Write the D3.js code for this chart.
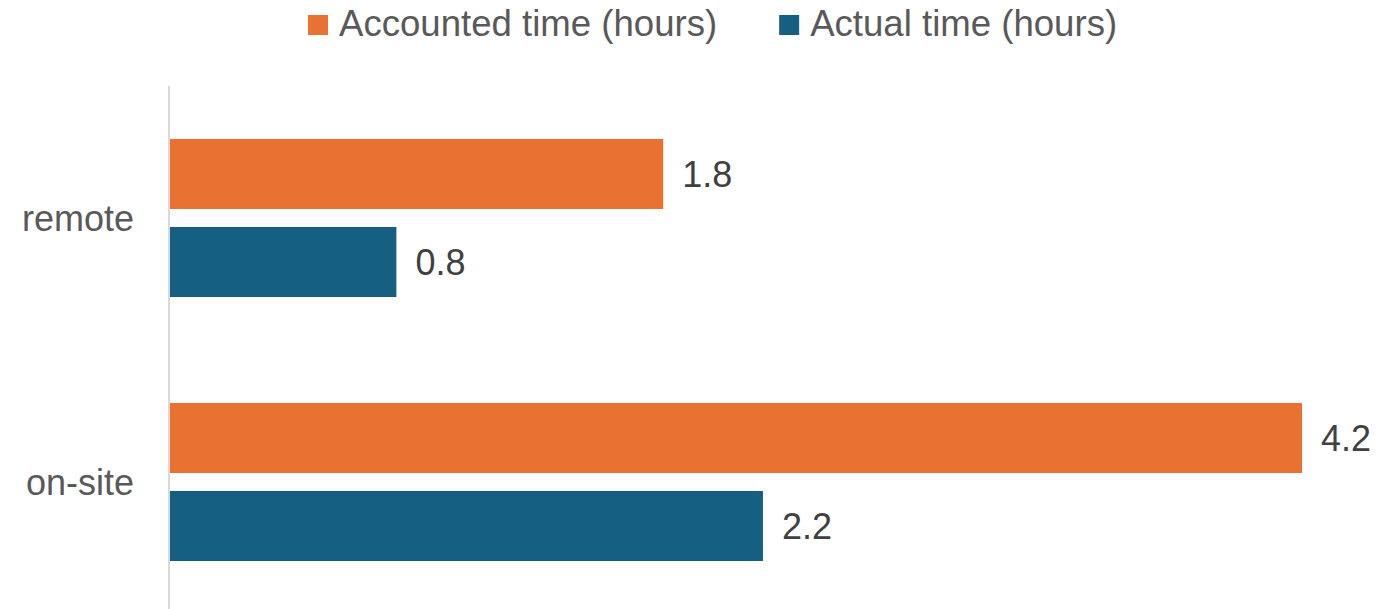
<!DOCTYPE html>
<html>
<head>
<meta charset="utf-8">
<script src="https://cdn.jsdelivr.net/npm/d3@7"></script>
<style>
  body { margin: 0; background: #fff; }
  text { font-family: "Liberation Sans", Arial, sans-serif; }
</style>
</head>
<body>
<div id="chart"></div>
<script>
// data
var categories = ["remote", "on-site"];
var series = ["Accounted time (hours)", "Actual time (hours)"];
var accounted = [1.83, 4.2];
var actual = [0.84, 2.2];
var colors = ["#E97132", "#156082"];

var width = 1386, height = 609;

var rows = categories.map(function(c, i) {
    return {cat: c, values: [accounted[i], actual[i]]};
});

var svg = d3.select("#chart").append("svg")
    .attr("width", width)
    .attr("height", height);

var x = d3.scaleLinear().domain([0, 4.2]).range([170, 1302]);

var y0 = d3.scaleBand()
    .domain(categories)
    .range([86, 614]);

var y1 = d3.scaleBand()
    .domain(d3.range(series.length))
    .range([0, y0.bandwidth()])
    .paddingInner(18 / 88)
    .paddingOuter(0.602);

// vertical axis line
svg.append("line")
    .attr("x1", 169).attr("x2", 169)
    .attr("y1", 86).attr("y2", height)
    .style("stroke", "#d9d9d9")
    .style("stroke-width", 2);

var g = svg.selectAll(".cat")
    .data(rows)
    .enter().append("g")
    .attr("class", "cat")
    .attr("transform", function(d) { return "translate(0," + y0(d.cat) + ")"; });

g.selectAll("rect")
    .data(function(d) { return d.values; })
    .enter().append("rect")
    .attr("x", x(0))
    .attr("y", function(d, i) { return y1(i); })
    .attr("width", function(d) { return x(d) - x(0); })
    .attr("height", y1.bandwidth())
    .style("fill", function(d, i) { return colors[i]; });

g.selectAll(".val")
    .data(function(d) { return d.values; })
    .enter().append("text")
    .attr("class", "val")
    .attr("x", function(d) { return x(d) + 19; })
    .attr("y", function(d, i) { return y1(i) + y1.bandwidth() / 2; })
    .attr("dy", "0.36em")
    .style("font-size", "36px")
    .style("fill", "#404040")
    .text(function(d) { return d3.format(".1f")(d); });

// category labels
svg.selectAll(".catlabel")
    .data(categories)
    .enter().append("text")
    .attr("class", "catlabel")
    .attr("x", 134)
    .attr("y", function(d) { return y0(d) + y0.bandwidth() / 2; })
    .attr("dy", "0.35em")
    .attr("text-anchor", "end")
    .style("font-size", "36px")
    .style("fill", "#595959")
    .text(function(d) { return d; });

// legend
var lx = 308;
series.forEach(function(s, i) {
    var lg = svg.append("g").attr("transform", "translate(" + lx + ",0)");
    lg.append("rect")
        .attr("x", 0).attr("y", 15)
        .attr("width", 20).attr("height", 20)
        .style("fill", colors[i]);
    var t = lg.append("text")
        .attr("x", 31)
        .attr("y", 36)
        .style("font-size", "36.6px")
        .style("fill", "#595959")
        .text(s);
    lx += 31 + t.node().getComputedTextLength() + 62;
});
</script>
</body>
</html>
